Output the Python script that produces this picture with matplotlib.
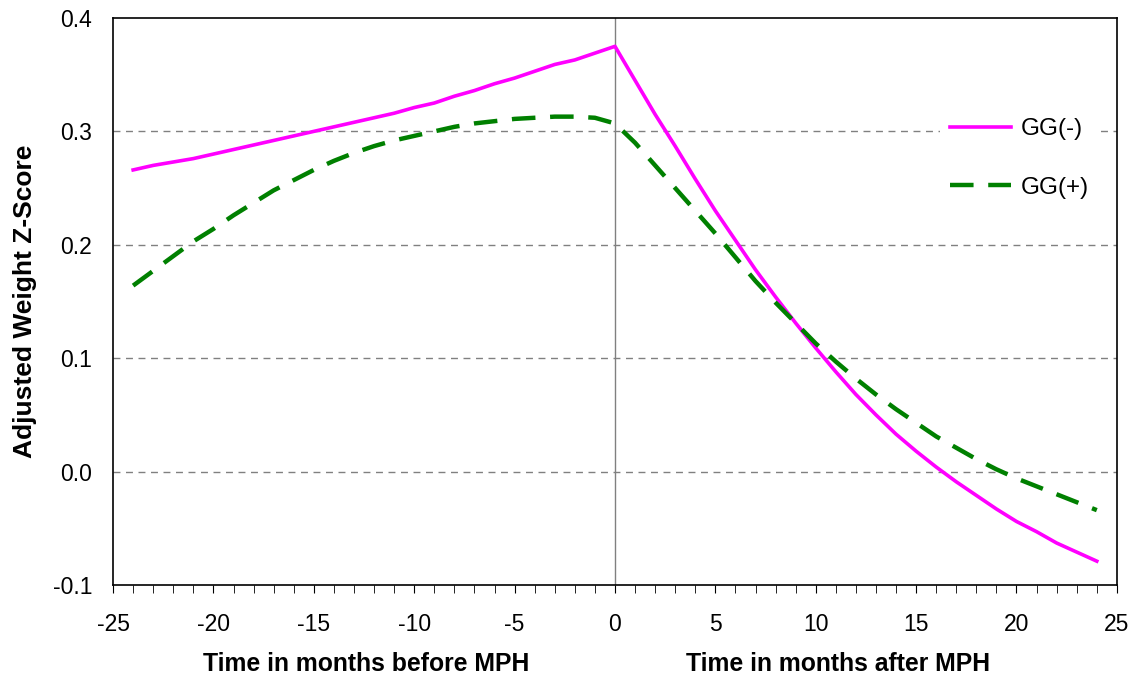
import numpy as np
import matplotlib
matplotlib.use('Agg')
import matplotlib.pyplot as plt
from matplotlib.ticker import MultipleLocator

plt.rcParams['font.family'] = ['Liberation Sans', 'DejaVu Sans']
plt.rcParams['axes.unicode_minus'] = False

months = np.arange(-24, 25)

gg_minus = [0.266, 0.270, 0.273, 0.276, 0.280, 0.284, 0.288, 0.292, 0.296, 0.300,
            0.304, 0.308, 0.312, 0.316, 0.321, 0.325, 0.331, 0.336, 0.342, 0.347,
            0.353, 0.359, 0.363, 0.369, 0.375,
            0.345, 0.315, 0.287, 0.258, 0.230, 0.204, 0.178, 0.154, 0.131, 0.109,
            0.088, 0.068, 0.050, 0.033, 0.018, 0.004, -0.009, -0.021, -0.033, -0.044,
            -0.053, -0.063, -0.071, -0.079]

gg_plus = [0.164, 0.177, 0.190, 0.203, 0.214, 0.226, 0.237, 0.248, 0.257, 0.266,
           0.274, 0.281, 0.287, 0.292, 0.296, 0.300, 0.304, 0.307, 0.309, 0.311,
           0.312, 0.313, 0.313, 0.312, 0.307,
           0.290, 0.270, 0.250, 0.230, 0.210, 0.189, 0.168, 0.149, 0.131, 0.113,
           0.097, 0.082, 0.068, 0.055, 0.043, 0.031, 0.021, 0.011, 0.002, -0.006,
           -0.013, -0.020, -0.027, -0.034]

fig = plt.figure(figsize=(11.42, 6.81), dpi=100)
ax = fig.add_axes([0.099, 0.141, 0.879, 0.8326])

for y in [0.0, 0.1, 0.2, 0.3]:
    ax.axhline(y, color='#808080', lw=1, ls=(0, (5, 4)), zorder=1)
ax.axvline(0, color='#808080', lw=1, zorder=1)

ax.plot(months, gg_minus, color='#FF00FF', lw=2.6, label='GG(-)', zorder=3)
ax.plot(months, gg_plus, color='#008000', lw=3.2, ls=(0, (5.3, 3.3)), label='GG(+)', zorder=3)

ax.set_xlim(-25, 25)
ax.set_ylim(-0.1, 0.4)
ax.xaxis.set_major_locator(MultipleLocator(5))
ax.xaxis.set_minor_locator(MultipleLocator(1))
ax.yaxis.set_major_locator(MultipleLocator(0.1))
ax.yaxis.set_major_formatter(plt.FuncFormatter(lambda v, p: f'{v:.1f}'.replace('\u2212', '-')))
ax.tick_params(axis='x', which='major', length=6, direction='out', labelsize=16.5, pad=14)
ax.tick_params(axis='x', which='minor', length=6, direction='out')
ax.tick_params(axis='y', length=0, labelsize=16.5, pad=15)
for s in ax.spines.values():
    s.set_linewidth(1.2)

ax.set_ylabel('Adjusted Weight Z-Score', fontsize=19, fontweight='bold', labelpad=11)
fig.text(366 / 1142, 0.014, 'Time in months before MPH', ha='center',
         fontsize=17.8, fontweight='bold')
fig.text(838 / 1142, 0.014, 'Time in months after MPH', ha='center',
         fontsize=17.8, fontweight='bold')

leg = ax.legend(loc='center left', bbox_to_anchor=(0.824, 0.752), frameon=True, fontsize=17.5,
                handlelength=2.5, handletextpad=0.4, labelspacing=1.5, borderpad=0.4,
                borderaxespad=0, fancybox=False, framealpha=1)
leg.get_frame().set_facecolor('white')
leg.get_frame().set_edgecolor('none')

fig.savefig('out.png', dpi=100)
